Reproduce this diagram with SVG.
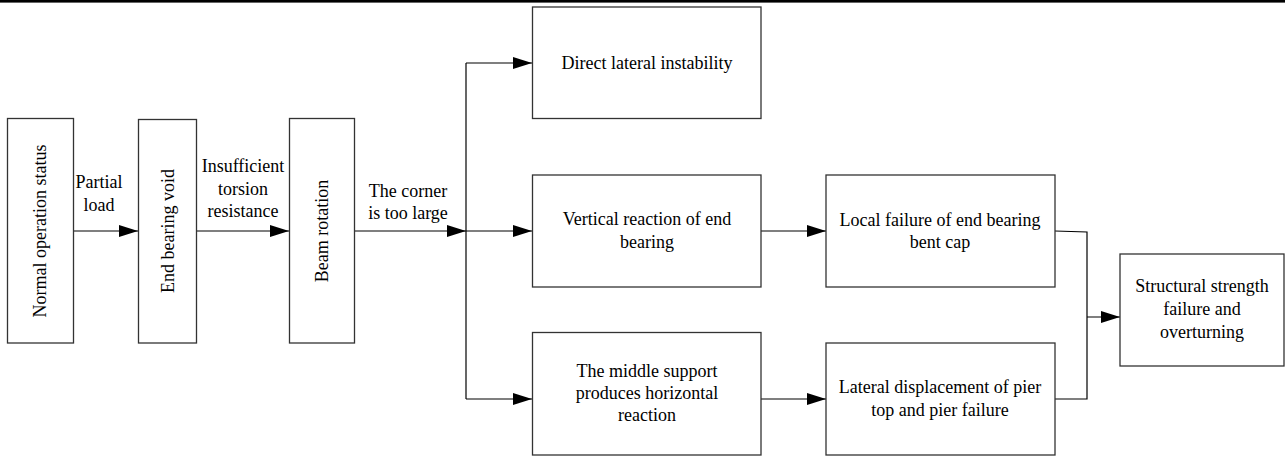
<svg xmlns="http://www.w3.org/2000/svg" width="1285" height="456" viewBox="0 0 1285 456">
<style>
.box{fill:#fff;stroke:#333;stroke-width:1.3}
.t{font-family:"Liberation Serif","Times New Roman",serif;font-size:18px;fill:#000;text-anchor:middle}
.c{fill:none;stroke:#000;stroke-width:1.2}
</style>
<defs>
<marker id="ah" markerUnits="userSpaceOnUse" markerWidth="19" markerHeight="12" refX="19" refY="6" orient="auto">
<path d="M0,0 L19,6 L0,12 z" fill="#000"/>
</marker>
</defs>
<rect width="1285" height="456" fill="#fff"/>
<rect x="0" y="0" width="1285" height="2.6" fill="#000"/>
<g id="connectors">
<line class="c" x1="73" y1="231" x2="138" y2="231" marker-end="url(#ah)"/>
<line class="c" x1="196" y1="231" x2="289" y2="231" marker-end="url(#ah)"/>
<line class="c" x1="354" y1="231" x2="466" y2="231" marker-end="url(#ah)"/>
<line class="c" x1="466" y1="63" x2="466" y2="399"/>
<line class="c" x1="466" y1="63" x2="532" y2="63" marker-end="url(#ah)"/>
<line class="c" x1="466" y1="231" x2="532" y2="231" marker-end="url(#ah)"/>
<line class="c" x1="466" y1="399" x2="532" y2="399" marker-end="url(#ah)"/>
<line class="c" x1="761" y1="231" x2="826" y2="231" marker-end="url(#ah)"/>
<line class="c" x1="761" y1="399" x2="826" y2="399" marker-end="url(#ah)"/>
<polyline class="c" points="1055,231 1087,232 1087,399 1055,399"/>
<line class="c" x1="1087" y1="317" x2="1120" y2="317" marker-end="url(#ah)"/>
<text class="t" x="99" y="188">Partial</text>
<text class="t" x="99" y="211">load</text>
<text class="t" x="243" y="172">Insufficient</text>
<text class="t" x="243" y="195">torsion</text>
<text class="t" x="243" y="217">resistance</text>
<text class="t" x="408" y="197">The corner</text>
<text class="t" x="408" y="219">is too large</text>
</g>
<g id="n1">
<rect class="box" x="7.5" y="118.5" width="66" height="224.5"/>
<text class="t" transform="translate(46,231) rotate(-90)">Normal operation status</text>
</g>
<g id="n2">
<rect class="box" x="138.5" y="119.5" width="58" height="223.5"/>
<text class="t" transform="translate(174,231) rotate(-90)">End bearing void</text>
</g>
<g id="n3">
<rect class="box" x="289.5" y="118.5" width="65" height="224.5"/>
<text class="t" transform="translate(328,231) rotate(-90)">Beam rotation</text>
</g>
<g id="n4">
<rect class="box" x="532.5" y="7" width="228.5" height="111.5"/>
<text class="t" x="647" y="69">Direct lateral instability</text>
</g>
<g id="n5">
<rect class="box" x="532.5" y="175" width="228.5" height="112"/>
<text class="t" x="647" y="225">Vertical reaction of end</text>
<text class="t" x="647" y="248">bearing</text>
</g>
<g id="n6">
<rect class="box" x="532.5" y="332.5" width="228.5" height="122.5"/>
<text class="t" x="647" y="377">The middle support</text>
<text class="t" x="647" y="399">produces horizontal</text>
<text class="t" x="647" y="421">reaction</text>
</g>
<g id="n7">
<rect class="box" x="826" y="175" width="229" height="112"/>
<text class="t" x="940" y="226">Local failure of end bearing</text>
<text class="t" x="940" y="248">bent cap</text>
</g>
<g id="n8">
<rect class="box" x="826" y="343" width="229" height="112"/>
<text class="t" x="940" y="393">Lateral displacement of pier</text>
<text class="t" x="940" y="416">top and pier failure</text>
</g>
<g id="n9">
<rect class="box" x="1120" y="254" width="164" height="112"/>
<text class="t" x="1202" y="292">Structural strength</text>
<text class="t" x="1202" y="315">failure and</text>
<text class="t" x="1202" y="338">overturning</text>
</g>
</svg>
